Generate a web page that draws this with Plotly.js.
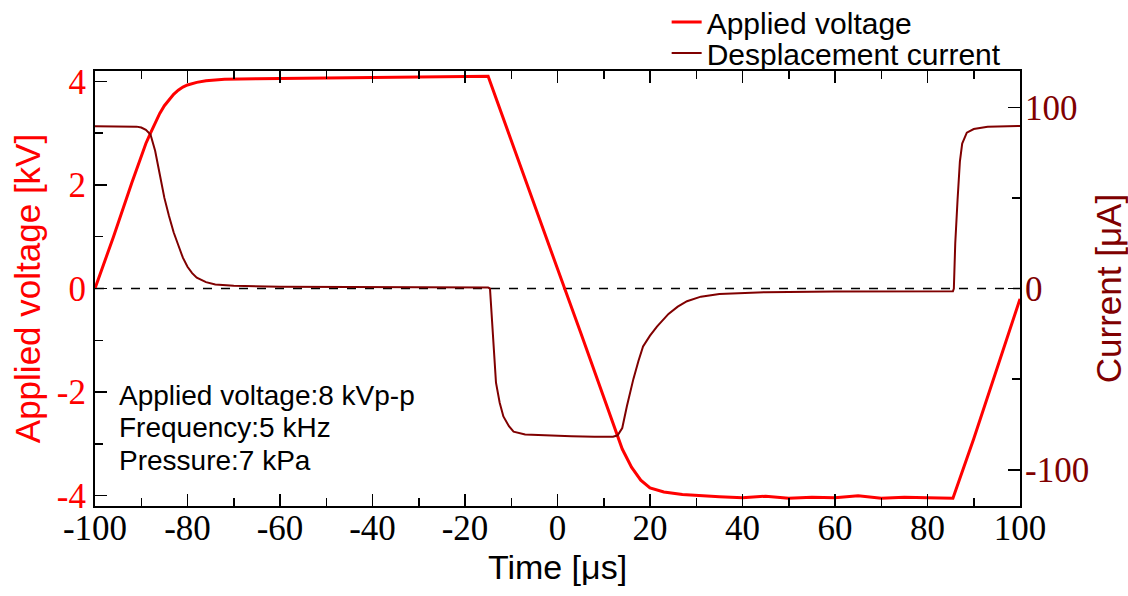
<!DOCTYPE html>
<html>
<head>
<meta charset="utf-8">
<script src="https://cdn.plot.ly/plotly-3.0.1.min.js"></script>
<style>html,body{margin:0;padding:0;background:#fff;}#chart{width:1128px;height:596px;}</style>
</head>
<body>
<div id="chart"></div>
<script>
// Applied voltage [kV] vs time [µs]
const voltageTime = [-100,-96,-92,-89,-88,-87,-86,-85,-84,-83,-82,-81,-80,-78,-76,-72,-65,-55,-45,-35,-25,-15,
  -10,-5,0,5,10,13,14,16,18,20,23,27,30,35,40,45,50,55,60,65,70,75,80,85.5,90,95,100];
const voltage = [0,1.0,2.05,2.8,3.0,3.2,3.38,3.53,3.65,3.75,3.83,3.89,3.93,3.98,4.01,4.04,4.05,4.06,4.07,4.08,4.09,4.1,
  2.86,1.6,0.38,-0.85,-2.1,-2.85,-3.1,-3.45,-3.7,-3.85,-3.93,-3.98,-4.0,-4.02,-4.04,-4.01,-4.05,-4.03,-4.04,-4.0,-4.05,-4.03,-4.04,-4.05,-2.9,-1.55,-0.2];

// Displacement current [µA] vs time [µs]
const currentTime = [-100,-95,-91,-90,-89,-88,-87,-86,-85,-84,-83,-82,-81,-80,-79,-78,-76,-74,-70,-60,-50,-30,-15,
  -14.6,-14,-13.3,-12.5,-11.7,-10.5,-9.5,-7,-3,3,8,12,13,14,15,16.4,17.5,18.5,20,21.5,24,26,28,31,35,45,60,75,85.5,
  85.7,86,86.5,87,87.5,88.5,90,93,100];
const current = [89.5,89.5,89.3,88.8,87.5,85,76,63,50,40,31,24,17,12,8.5,6,3.5,2.2,1.5,1.0,0.8,0.6,0.5,
  0,-25,-52,-63,-70.6,-76,-79,-80.5,-81,-81.5,-81.8,-81.8,-81,-77,-65,-50,-40,-32,-26,-21,-14,-10,-7,-4.5,-3,-2,-1.7,-1.6,-1.5,
  0,25,49,70,80,86,88,89.2,89.7];

const xTicks = [-100,-80,-60,-40,-20,0,20,40,60,80,100];
const xTickText = ["-100","-80","-60","-40","-20","0","20","40","60","80","100"];
const vTicks = [-4,-2,0,2,4];
const vTickText = ["-4","-2","0","2","4"];
const iTicks = [-100,0,100];
const iTickText = ["-100","0","100"];

const infoLines = ["Applied voltage:8 kVp-p","Frequency:5 kHz","Pressure:7 kPa"];

const red = "#ff0000", darkRed = "#800000";
const serif = "Liberation Serif, Times New Roman, serif";
const sans = "Liberation Sans, Arial, sans-serif";

const traces = [
  {x: voltageTime, y: voltage, name: "Applied voltage", type: "scatter", mode: "lines",
   line: {color: red, width: 3}, yaxis: "y", legend: "legend"},
  {x: currentTime, y: current, name: "Desplacement current", type: "scatter", mode: "lines",
   line: {color: darkRed, width: 2}, yaxis: "y2", legend: "legend2"}
];

const common = {showgrid: false, zeroline: false, showline: true, linecolor: "#000", linewidth: 2,
  ticks: "inside", ticklen: 12, tickwidth: 1.5, tickcolor: "#000", tickmode: "array"};

const legendBase = {xref: "paper", yref: "container", x: 0.618, xanchor: "left", yanchor: "middle",
  bgcolor: "rgba(0,0,0,0)", font: {family: sans, size: 30, color: "#000"}};

const layout = {
  width: 1128, height: 596,
  margin: {l: 95, r: 108, t: 71, b: 90, autoexpand: false},
  paper_bgcolor: "#fff", plot_bgcolor: "#fff",
  showlegend: true,
  legend: Object.assign({}, legendBase, {y: 1 - 22/596}),
  legend2: Object.assign({}, legendBase, {y: 1 - 53/596}),
  xaxis: Object.assign({}, common, {range: [-100, 100], tickvals: xTicks, ticktext: xTickText,
    mirror: "ticks", ticklabelstandoff: -10,
    minor: {dtick: 10, tick0: 0, ticks: "inside", ticklen: 8, tickwidth: 1.5, tickcolor: "#000"},
    tickfont: {family: serif, size: 35, color: "#000"},
    title: {text: "Time [μs]", font: {family: sans, size: 34, color: "#000"}, standoff: 8}}),
  yaxis: Object.assign({}, common, {range: [-4.2, 4.2], tickvals: vTicks, ticktext: vTickText,
    minor: {dtick: 1, tick0: 0, ticks: "inside", ticklen: 8, tickwidth: 1.5, tickcolor: "#000"},
    tickfont: {family: serif, size: 35, color: red},
    title: {text: "Applied voltage [kV]", font: {family: sans, size: 35, color: red}, standoff: 6}}),
  yaxis2: Object.assign({}, common, {overlaying: "y", side: "right", range: [-120, 120],
    tickvals: iTicks, ticktext: iTickText, ticklabelstandoff: -4,
    minor: {dtick: 50, tick0: 0, ticks: "inside", ticklen: 8, tickwidth: 1.5, tickcolor: "#000"},
    tickfont: {family: serif, size: 35, color: darkRed},
    title: {text: "Current [μA]", font: {family: sans, size: 35, color: darkRed}, standoff: 10}}),
  shapes: [{type: "line", xref: "paper", x0: 0, x1: 1, yref: "y", y0: 0, y1: 0,
    line: {color: "#000", width: 1.5, dash: "dash"}, layer: "below"}],
  annotations: infoLines.map((t, i) => ({text: t, xref: "x", yref: "paper", x: -95.3, y: 0.255 - i*0.0747,
    xanchor: "left", yanchor: "middle", showarrow: false, font: {family: sans, size: 28, color: "#000"}}))
};

Plotly.newPlot("chart", traces, layout, {staticPlot: true, displayModeBar: false});
</script>
</body>
</html>
